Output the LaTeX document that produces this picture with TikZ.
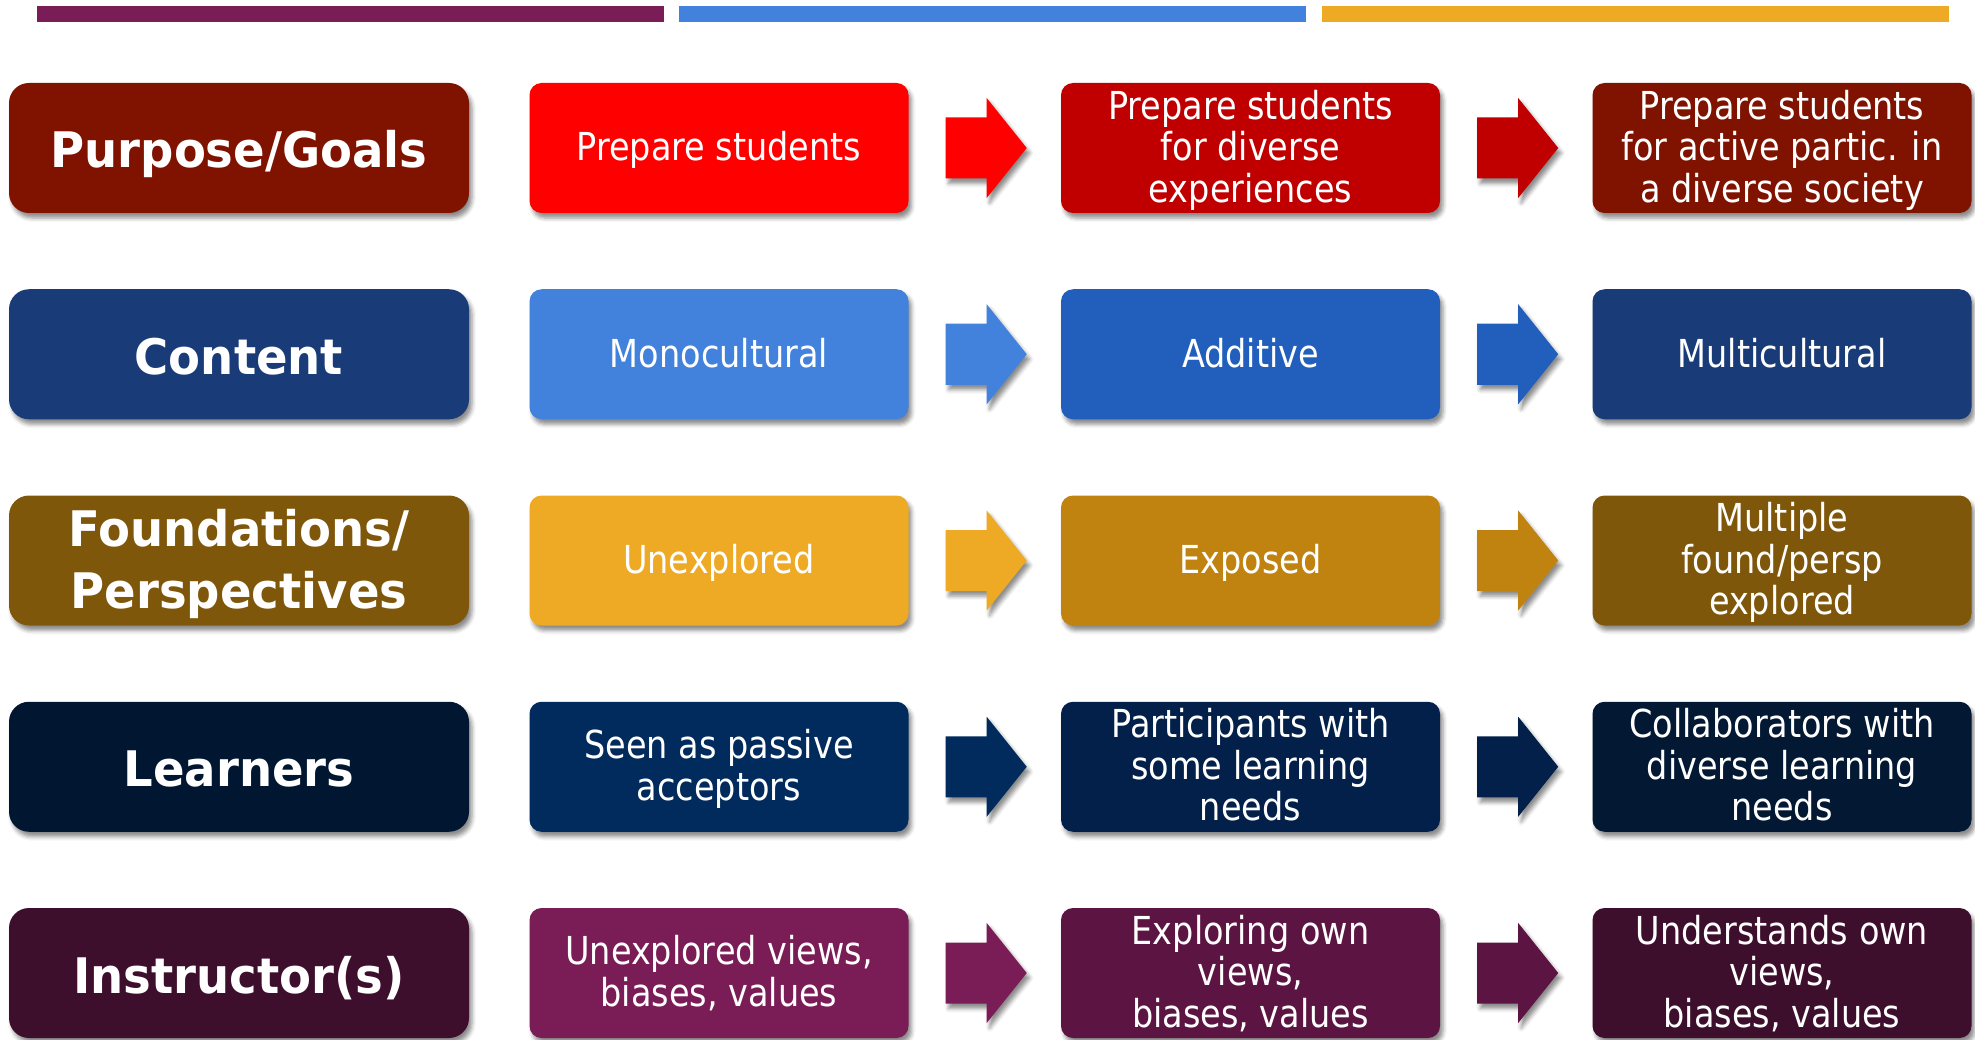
\documentclass[tikz,border=0pt]{standalone}
\usepackage{fontspec}
\setmainfont{DejaVu Sans}[FakeStretch=0.87]
\newfontfamily\headfont{DejaVu Sans}[FakeStretch=0.95]
\usetikzlibrary{calc,shadows.blur}

% palette
\definecolor{redA}{HTML}{FF0000}
\definecolor{redB}{HTML}{C00000}
\definecolor{redC}{HTML}{7F1300}
\definecolor{blueA}{HTML}{4282DC}
\definecolor{blueB}{HTML}{225FBD}
\definecolor{blueC}{HTML}{193B78}
\definecolor{goldA}{HTML}{EEAA24}
\definecolor{goldB}{HTML}{C08310}
\definecolor{goldC}{HTML}{7F570B}
\definecolor{navyA}{HTML}{002B5C}
\definecolor{navyB}{HTML}{02204A}
\definecolor{navyC}{HTML}{021833}
\definecolor{navyL}{HTML}{011731}
\definecolor{plumA}{HTML}{7A1C55}
\definecolor{plumB}{HTML}{5C1442}
\definecolor{plumC}{HTML}{3E0F2D}

\tikzset{
  softshadow/.style={blur shadow={shadow xshift=3pt, shadow yshift=-5pt,
      shadow blur radius=4pt, shadow opacity=45}},
  % fixed first-line height and last-line depth, so every box centres
  % its text on the cap height, descenders or not
  headbox/.style={fill=#1, text=white, rounded corners=20pt,
      minimum width=460pt, minimum height=130pt, inner sep=0pt,
      align=center, softshadow, text depth=4pt,
      font=\headfont\bfseries\fontsize{49}{62}\selectfont,
      execute at begin node={\rule{0pt}{44pt}}},
  stagebox/.style={fill=#1, text=white, rounded corners=12pt,
      minimum width=379pt, minimum height=130pt, inner sep=0pt,
      align=center, softshadow, text depth=4pt,
      font=\fontsize{38.5}{41.6}\selectfont,
      execute at begin node={\rule{0pt}{30pt}}},
}

% block arrow drawn just right of a box, pointing to the next box
\newcommand{\blockarrow}[2]{%
  \fill[#2, softshadow] ($(#1.east)+(37,-30.5)$) -- ++(41,0) -- ++(0,-19.5)
    -- ++(40,50) -- ++(-40,50) -- ++(0,-19.5) -- ++(-41,0) -- cycle;}

\begin{document}
\begin{tikzpicture}[x=1pt, y=-1pt]
\useasboundingbox (0,0) rectangle (1975,1040);

% header bars
\fill[plumA] (37,6) rectangle (664,22);
\fill[blueA] (679,6) rectangle (1306,22);
\fill[goldA] (1322,6) rectangle (1949,22);

% row 1
\node[headbox=redC] (h1) at (239,148) {Purpose/Goals};
\node[stagebox=redA] (a1) at (719,148) {Prepare students};
\node[stagebox=redB] (b1) at (1250.5,148) {Prepare students\\for diverse\\experiences};
\node[stagebox=redC] (c1) at (1782,148) {Prepare students\\for active partic. in\\a diverse society};
\blockarrow{a1}{redA}
\blockarrow{b1}{redB}

% row 2
\node[headbox=blueC] (h2) at (239,354.25) {Content};
\node[stagebox=blueA] (a2) at (719,354.25) {Monocultural};
\node[stagebox=blueB] (b2) at (1250.5,354.25) {Additive};
\node[stagebox=blueC] (c2) at (1782,354.25) {Multicultural};
\blockarrow{a2}{blueA}
\blockarrow{b2}{blueB}

% row 3
\node[headbox=goldC] (h3) at (239,560.5) {Foundations/\\Perspectives};
\node[stagebox=goldA] (a3) at (719,560.5) {Unexplored};
\node[stagebox=goldB] (b3) at (1250.5,560.5) {Exposed};
\node[stagebox=goldC] (c3) at (1782,560.5) {Multiple\\found/persp\\explored};
\blockarrow{a3}{goldA}
\blockarrow{b3}{goldB}

% row 4
\node[headbox=navyL] (h4) at (239,766.75) {Learners};
\node[stagebox=navyA] (a4) at (719,766.75) {Seen as passive\\acceptors};
\node[stagebox=navyB] (b4) at (1250.5,766.75) {Participants with\\some learning\\needs};
\node[stagebox=navyC] (c4) at (1782,766.75) {Collaborators with\\diverse learning\\needs};
\blockarrow{a4}{navyA}
\blockarrow{b4}{navyB}

% row 5
\node[headbox=plumC] (h5) at (239,973) {Instructor(s)};
\node[stagebox=plumA] (a5) at (719,973) {Unexplored views,\\biases, values};
\node[stagebox=plumB] (b5) at (1250.5,973) {Exploring own\\views,\\biases, values};
\node[stagebox=plumC] (c5) at (1782,973) {Understands own\\views,\\biases, values};
\blockarrow{a5}{plumA}
\blockarrow{b5}{plumB}
\end{tikzpicture}
\end{document}
